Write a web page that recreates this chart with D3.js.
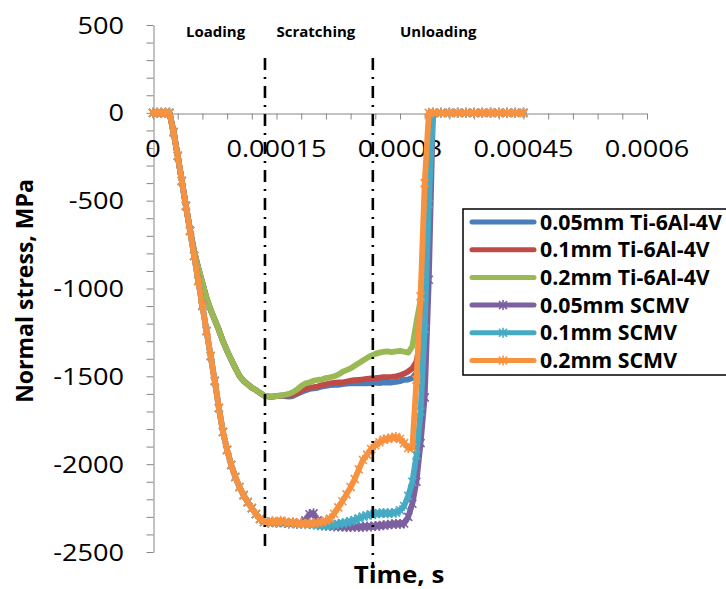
<!DOCTYPE html>
<html><head><meta charset="utf-8">
<script src="https://cdn.jsdelivr.net/npm/d3@7/dist/d3.min.js"></script>
<style>body{margin:0;background:#fff}svg{display:block}</style>
</head><body><svg id="c" width="726" height="589"></svg>
<script>
// time in units of 1e-5 s
const timeE5 = [0,0.5,1,1.5,2,2.5,3,3.5,4,4.5,
 5,5.5,6,6.5,7,7.5,8,8.5,9,9.5,
 10,10.5,11,11.5,12,12.5,13,13.5,14,14.5,
 15,15.5,16,16.5,17,17.5,18,18.5,19,19.5,
 20,20.5,21,21.5,22,22.5,23,23.5,24,24.5,
 25,25.5,26,26.5,27,27.5,28,28.5,29,29.5,
 30,30.5,31,31.5,32,32.5,33,33.5,34,35,
 36,37,38,39,40,41,42,43,44,45];

const ti005 = [0,0,0,0,0,-110,-245,-387,-530,-665,
 -790,-883,-968,-1054,-1122,-1179,-1236,-1300,-1355,-1405,
 -1452,-1498,-1526,-1545,-1565,-1578,-1595,-1610,-1615,-1615,
 -1612,-1610,-1612,-1615,-1612,-1600,-1590,-1580,-1572,-1568,
 -1565,-1558,-1555,-1550,-1548,-1548,-1545,-1542,-1540,-1540,
 -1538,-1540,-1540,-1538,-1536,-1538,-1535,-1536,-1535,-1532,
 -1528,-1520,-1518,-1510,-1480,-1370,-900,-300,0,0,
 0,0,0,0,0,0,0,0,0,0];
const ti01 = [0,0,0,0,0,-110,-245,-387,-530,-665,
 -790,-883,-968,-1054,-1122,-1179,-1236,-1300,-1355,-1405,
 -1452,-1498,-1526,-1545,-1565,-1578,-1595,-1610,-1615,-1615,
 -1612,-1610,-1610,-1610,-1605,-1595,-1582,-1570,-1565,-1562,
 -1558,-1550,-1545,-1540,-1537,-1535,-1535,-1530,-1525,-1522,
 -1520,-1518,-1515,-1512,-1510,-1508,-1505,-1505,-1503,-1500,
 -1495,-1485,-1472,-1455,-1415,-1300,-800,-150,0,0,
 0,0,0,0,0,0,0,0,0,0];
const ti02 = [0,0,0,0,0,-110,-245,-387,-530,-665,
 -790,-883,-968,-1054,-1122,-1179,-1236,-1300,-1355,-1405,
 -1452,-1498,-1526,-1545,-1565,-1578,-1595,-1610,-1615,-1615,
 -1612,-1610,-1605,-1600,-1590,-1575,-1555,-1540,-1535,-1525,
 -1520,-1518,-1510,-1505,-1500,-1490,-1475,-1465,-1455,-1440,
 -1425,-1410,-1395,-1382,-1372,-1365,-1360,-1358,-1362,-1358,
 -1355,-1360,-1365,-1330,-1190,-1065,-665,-210,0,0,
 0,0,0,0,0,0,0,0,0,0];
const scmv005 = [0,0,0,0,0,-110,-245,-387,-530,-672,
 -814,-957,-1099,-1242,-1384,-1526,-1680,-1817,-1919,-2005,
 -2073,-2130,-2176,-2216,-2250,-2284,-2312,-2329,-2332,-2330,
 -2334,-2330,-2335,-2338,-2336,-2340,-2338,-2320,-2285,-2280,
 -2320,-2345,-2350,-2352,-2355,-2355,-2356,-2358,-2357,-2356,
 -2358,-2357,-2355,-2355,-2352,-2350,-2348,-2345,-2342,-2340,
 -2340,-2338,-2300,-2225,-2100,-1880,-1620,-950,0,0,
 0,0,0,0,0,0,0,0,0,0];
const scmv01 = [0,0,0,0,0,-110,-245,-387,-530,-672,
 -814,-957,-1099,-1242,-1384,-1526,-1680,-1817,-1919,-2005,
 -2073,-2130,-2176,-2216,-2250,-2284,-2312,-2329,-2332,-2328,
 -2332,-2328,-2333,-2336,-2334,-2340,-2338,-2342,-2340,-2344,
 -2348,-2350,-2350,-2348,-2345,-2340,-2336,-2332,-2326,-2318,
 -2308,-2298,-2292,-2286,-2282,-2280,-2278,-2280,-2278,-2276,
 -2262,-2238,-2180,-2100,-1950,-1700,-1230,-520,0,0,
 0,0,0,0,0,0,0,0,0,0];
const scmv02 = [0,0,0,0,0,-110,-245,-387,-530,-672,
 -814,-957,-1099,-1242,-1384,-1526,-1680,-1817,-1919,-2005,
 -2073,-2130,-2176,-2216,-2250,-2284,-2312,-2329,-2332,-2325,
 -2330,-2322,-2328,-2335,-2330,-2338,-2335,-2340,-2336,-2338,
 -2332,-2330,-2322,-2310,-2282,-2246,-2211,-2172,-2131,-2085,
 -2030,-1976,-1946,-1914,-1892,-1875,-1860,-1855,-1850,-1846,
 -1857,-1880,-1908,-1905,-1520,-1045,-400,0,0,0,
 0,0,0,0,0,0,0,0,0,0];

const seriesNames = ["0.05mm Ti-6Al-4V","0.1mm Ti-6Al-4V","0.2mm Ti-6Al-4V","0.05mm SCMV","0.1mm SCMV","0.2mm SCMV"];
const seriesValues = [ti005, ti01, ti02, scmv005, scmv01, scmv02];
const seriesColors = ["#4A7EBB","#BE4B48","#98B954","#7D60A0","#46AAC5","#F69240"];
const seriesMarkers = [false,false,false,true,true,true];

const xTickValues = [0,0.00015,0.0003,0.00045,0.0006];
const xTickLabels = ["0","0.00015","0.0003","0.00045","0.0006"];
const yTickValues = [500,0,-500,-1000,-1500,-2000,-2500];
const yTickLabels = ["500","0","-500","-1000","-1500","-2000","-2500"];
const phaseLabels = ["Loading","Scratching","Unloading"];
const phaseLabelTimes = [0.00004,0.00015,0.0003];
const phaseBounds = [0.000136,0.000267];

const svg = d3.select("#c");
svg.append("rect").attr("width",726).attr("height",589).attr("fill","#fff");

const x = d3.scaleLinear().domain([0,0.0006]).range([153,647]);
const y = d3.scaleLinear().domain([-2500,500]).range([552,25]);
const axisColor = "#868686";
const y0 = Math.round(y(0)) + 0.5;

// x axis at y=0
const xMinor = d3.range(0, 0.0006 + 1e-10, 0.00003);
const gx = svg.append("g").attr("transform",`translate(0,${y0})`)
  .call(d3.axisBottom(x).tickValues(xMinor).tickSize(6).tickSizeOuter(0).tickFormat(""));
gx.selectAll("path,line").attr("stroke",axisColor).attr("stroke-width",1);

// y axis
const yMinor = d3.range(-2500, 500 + 1e-6, 100);
const gy = svg.append("g").attr("transform",`translate(153.5,0)`)
  .call(d3.axisLeft(y).tickValues(yMinor).tickSize(7).tickSizeOuter(0).tickFormat(""));
gy.selectAll("path,line").attr("stroke",axisColor).attr("stroke-width",1);

const font = "'Open Sans', sans-serif";
svg.append("g").selectAll("text").data(xTickValues).join("text")
  .attr("transform", d => `translate(${x(d)},157) scale(1.13,1)`)
  .attr("text-anchor","middle").attr("font-family",font).attr("font-size",24).attr("fill","#000")
  .text((d,i) => xTickLabels[i]);
svg.append("g").selectAll("text").data(yTickValues).join("text")
  .attr("transform", d => `translate(124,${y(d)}) scale(1.13,1)`).attr("dy","0.36em")
  .attr("text-anchor","end").attr("font-family",font).attr("font-size",24).attr("fill","#000")
  .text((d,i) => yTickLabels[i]);

// series
const line = d3.line().x(d => x(d[0]*1e-5)).y(d => y(d[1]));
const star = "M-4,-4L4,4M-4,4L4,-4M0,-5L0,5";
seriesValues.forEach((vals, si) => {
  const pts = timeE5.map((t,i) => [t, vals[i]]);
  svg.append("path").datum(pts).attr("d", line)
    .attr("fill","none").attr("stroke",seriesColors[si]).attr("stroke-width",5.8)
    .attr("stroke-linejoin","round").attr("stroke-linecap","round");
  if (seriesMarkers[si]) {
    svg.append("g").selectAll("path").data(pts).join("path")
      .attr("transform", d => `translate(${x(d[0]*1e-5)},${y(d[1])})`)
      .attr("d", star).attr("stroke",seriesColors[si]).attr("stroke-width",1.6).attr("fill","none");
  }
});

// phase boundaries
const dashEnds = [552, 568];
phaseBounds.forEach((t,i) => {
  svg.append("line").attr("x1",x(t)).attr("x2",x(t)).attr("y1",58).attr("y2",dashEnds[i])
    .attr("stroke","#000").attr("stroke-width",2.6).attr("stroke-dasharray","12,7,2,7");
});
svg.append("g").selectAll("text").data(phaseLabels).join("text")
  .attr("x",(d,i) => x(phaseLabelTimes[i])).attr("y",37)
  .attr("font-family",font).attr("font-weight","bold").attr("font-size",15).attr("fill","#000")
  .text(d => d);

// legend
const lg = svg.append("g");
lg.append("rect").attr("x",463).attr("y",209).attr("width",300).attr("height",166)
  .attr("fill","#fff").attr("stroke","#000").attr("stroke-width",1.5);
seriesNames.forEach((name, i) => {
  const ry = 222 + i*27.7;
  lg.append("line").attr("x1",472).attr("x2",534).attr("y1",ry).attr("y2",ry)
    .attr("stroke",seriesColors[i]).attr("stroke-width",5).attr("stroke-linecap","round");
  if (seriesMarkers[i]) {
    lg.append("path").attr("transform",`translate(503,${ry})`).attr("d",star)
      .attr("stroke",seriesColors[i]).attr("stroke-width",1.6).attr("fill","none");
  }
  lg.append("text").attr("x",540).attr("y",ry).attr("dy","0.36em")
    .attr("font-family",font).attr("font-weight","bold").attr("font-size",21.3).attr("fill","#000")
    .text(name);
});

// axis titles
svg.append("text").attr("transform","translate(25,291) rotate(-90)")
  .attr("text-anchor","middle").attr("dy","0.36em")
  .attr("font-family",font).attr("font-weight","bold").attr("font-size",23).attr("fill","#000")
  .text("Normal stress, MPa");
svg.append("text").attr("transform","translate(399,583) scale(1.08,1)").attr("text-anchor","middle")
  .attr("font-family",font).attr("font-weight","bold").attr("font-size",24).attr("fill","#000")
  .text("Time, s");
</script></body></html>
